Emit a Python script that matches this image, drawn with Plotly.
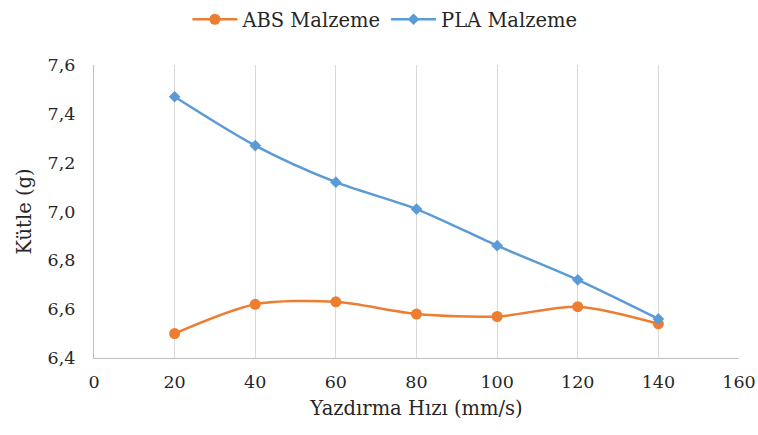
import plotly.graph_objects as go

speeds = [20, 40, 60, 80, 100, 120, 140]
abs_mass = [6.50, 6.62, 6.63, 6.58, 6.57, 6.61, 6.54]
pla_mass = [7.47, 7.27, 7.12, 7.01, 6.86, 6.72, 6.56]
x_ticks = [0, 20, 40, 60, 80, 100, 120, 140, 160]
y_ticks = [6.4, 6.6, 6.8, 7.0, 7.2, 7.4, 7.6]

font_family = "DejaVu Serif"

fig = go.Figure()
fig.add_trace(go.Scatter(
    x=speeds, y=abs_mass, name="ABS Malzeme", mode="lines+markers",
    line=dict(color="#ED7D31", width=2.5, shape="spline", smoothing=0.8),
    marker=dict(symbol="circle", size=11, color="#ED7D31"),
))
fig.add_trace(go.Scatter(
    x=speeds, y=pla_mass, name="PLA Malzeme", mode="lines+markers",
    line=dict(color="#5B9BD5", width=2.5, shape="spline", smoothing=0.8),
    marker=dict(symbol="diamond", size=9, color="#5B9BD5"),
))

fig.update_layout(
    width=758, height=435,
    margin=dict(l=94, r=19, t=65, b=77, autoexpand=False),
    paper_bgcolor="white", plot_bgcolor="white",
    separators=", ",
    font=dict(family=font_family, size=17.5, color="#262626"),
    showlegend=True,
    legend=dict(orientation="h", x=0.451, xanchor="center",
                yref="container", y=0.955, yanchor="middle",
                font=dict(size=19.5), itemwidth=45),
    xaxis=dict(
        range=[0, 160], tickvals=x_ticks, ticktext=[str(v) for v in x_ticks],
        showgrid=True, gridcolor="#d9d9d9", gridwidth=1.2,
        showline=True, linecolor="#bfbfbf", linewidth=1.2,
        zeroline=False, ticks="", ticklabelstandoff=8, automargin=False,
        title=dict(text="Yazdırma Hızı (mm/s)", font=dict(size=19.5), standoff=10),
    ),
    yaxis=dict(
        range=[6.4, 7.6], tickvals=y_ticks, tickformat=".1f",
        showgrid=False, showline=True, linecolor="#bfbfbf", linewidth=1.2,
        zeroline=False, ticks="", ticklabelstandoff=14, automargin=False,
        title=dict(text="Kütle (g)", font=dict(size=19.5), standoff=10),
    ),
)

fig.write_html("out.html")
